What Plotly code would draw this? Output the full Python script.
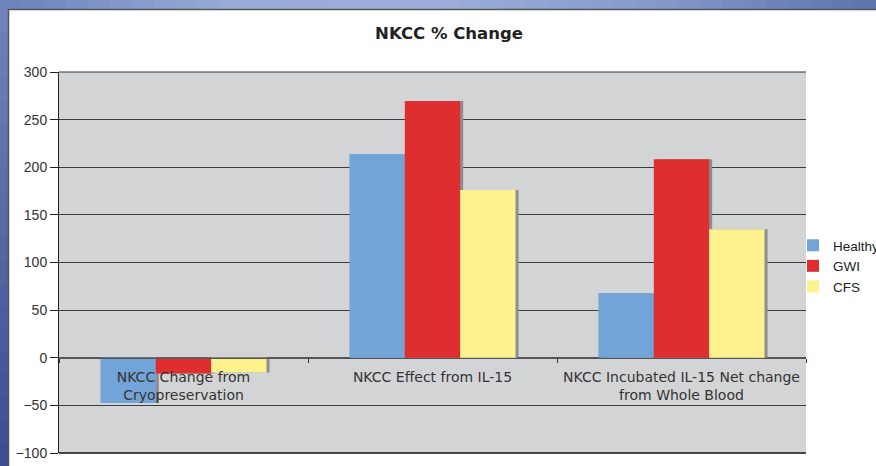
import plotly.graph_objects as go

categories = ["NKCC Change from<br>Cryopreservation", "NKCC Effect from IL-15",
              "NKCC Incubated IL-15 Net change<br>from Whole Blood"]
series_names = ["Healthy", "GWI", "CFS"]
healthy = [-47.5, 214, 68]
gwi = [-16.5, 269.5, 208.5]
cfs = [-15.5, 176, 135]
colors = ["#72A4D7", "#DE2E30", "#FEF28F"]

W, H = 876, 466
L, R, T, B = 59, 70, 72, 13
PW, PH = W - L - R, H - T - B

def px(x):
    return (x - L) / PW

def py(y):
    return (H - B - y) / PH

bar_w = (1 - 0.333) / 3
offsets = [-1.5 * bar_w, -0.5 * bar_w, 0.5 * bar_w]
shadow_dx = 3 / (PW / 3)

fig = go.Figure()
for name, vals, off in zip(series_names, [healthy, gwi, cfs], offsets):
    fig.add_trace(go.Bar(name=name + " shadow", x=categories, y=vals, offset=off + shadow_dx, width=bar_w,
                         marker=dict(color="#8E8E90", line=dict(width=0)), showlegend=False, hoverinfo="skip"))
for name, vals, c, off in zip(series_names, [healthy, gwi, cfs], colors, offsets):
    fig.add_trace(go.Bar(name=name, x=categories, y=vals, offset=off, width=bar_w,
                         marker=dict(color=c, line=dict(width=0))))

shapes = []
# top gradient band
top_cols = [(0x6E, 0x84, 0xBE), (0x98, 0xAA, 0xD6), (0x9C, 0xAE, 0xD8), (0x86, 0x9A, 0xCC), (0x60, 0x74, 0xAE)]
nseg = 40
for i in range(nseg):
    t = i / (nseg - 1) * (len(top_cols) - 1)
    k = min(int(t), len(top_cols) - 2)
    f = t - k
    c = tuple(int(top_cols[k][j] * (1 - f) + top_cols[k + 1][j] * f) for j in range(3))
    x0 = i * W / nseg
    x1 = (i + 1) * W / nseg + 1
    shapes.append(dict(type="rect", xref="paper", yref="paper", x0=px(x0), x1=px(x1),
                       y0=py(9.5), y1=py(-5), fillcolor="rgb(%d,%d,%d)" % c, line=dict(width=0), layer="below"))
# left band
left_cols = [(0x6E, 0x82, 0xBC), (0x3C, 0x50, 0x92)]
nseg2 = 20
for i in range(nseg2):
    f = i / (nseg2 - 1)
    c = tuple(int(left_cols[0][j] * (1 - f) + left_cols[1][j] * f) for j in range(3))
    y0 = 9 + i * (H - 9) / nseg2
    y1 = 9 + (i + 1) * (H - 9) / nseg2 + 1
    shapes.append(dict(type="rect", xref="paper", yref="paper", x0=px(-5), x1=px(8),
                       y0=py(y1), y1=py(y0), fillcolor="rgb(%d,%d,%d)" % c, line=dict(width=0), layer="below"))
# frame border lines
shapes.append(dict(type="line", xref="paper", yref="paper", x0=px(8), x1=px(W + 5), y0=py(9.5), y1=py(9.5),
                   line=dict(color="#555555", width=1.5)))
shapes.append(dict(type="line", xref="paper", yref="paper", x0=px(8.5), x1=px(8.5), y0=py(9), y1=py(H + 5),
                   line=dict(color="#555555", width=1.5)))
# plot top and bottom border
shapes.append(dict(type="line", xref="paper", yref="paper", x0=0, x1=1, y0=1, y1=1,
                   line=dict(color="#333333", width=1)))
shapes.append(dict(type="line", xref="paper", yref="paper", x0=0, x1=1, y0=0, y1=0,
                   line=dict(color="#111111", width=1.5)))

fig.update_layout(
    width=W, height=H,
    margin=dict(l=L, r=R, t=T, b=B, autoexpand=False),
    paper_bgcolor="white",
    plot_bgcolor="#D3D4D6",
    barmode="overlay",
    title=dict(text="<b>NKCC % Change</b>", xref="container", x=449 / W, xanchor="center",
               yref="container", y=1 - 33 / H, yanchor="middle",
               font=dict(family="DejaVu Sans, Verdana, sans-serif", size=16.5, color="#222222")),
    showlegend=True,
    legend=dict(x=px(793), y=py(230), xanchor="left", yanchor="top", bgcolor="rgba(0,0,0,0)",
                font=dict(family="Liberation Sans, Arial, sans-serif", size=13.5, color="#222222"),
                itemsizing="constant", tracegroupgap=0),
    shapes=shapes,
    xaxis=dict(anchor="free", position=0.25, showline=True, linecolor="#555555", linewidth=1,
               ticks="outside", tickson="boundaries", ticklen=4, tickcolor="#333333",
               ticklabelstandoff=6,
               tickfont=dict(family="DejaVu Sans, Verdana, sans-serif", size=14, color="#333333"),
               showgrid=False, zeroline=False),
    yaxis=dict(range=[-100, 300], dtick=50, showgrid=True, gridcolor="#3c3c3c", gridwidth=1,
               zeroline=True, zerolinecolor="#555555", zerolinewidth=1,
               showline=True, linecolor="#222222", linewidth=1, ticks="outside", ticklen=8,
               tickcolor="#222222",
               tickfont=dict(family="Liberation Sans, Arial, sans-serif", size=14, color="#333333")),
)

fig.write_html("out.html", config={"displayModeBar": False},
               post_script="document.body.style.margin='0px';document.body.style.overflow='hidden';")
